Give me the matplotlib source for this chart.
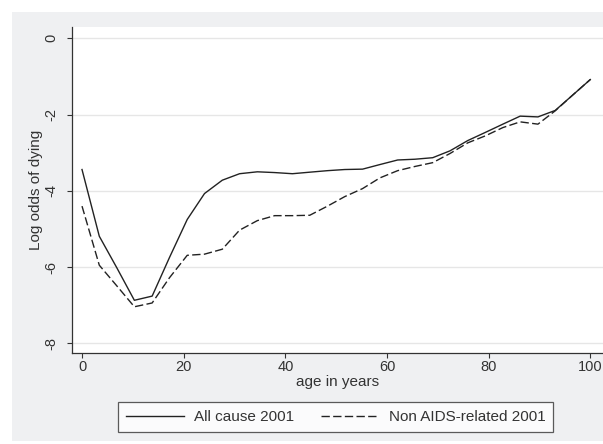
import matplotlib
matplotlib.use('Agg')
import matplotlib.pyplot as plt
from matplotlib.patches import Rectangle

plt.rcParams['font.family'] = ['Liberation Sans', 'DejaVu Sans']

# age knots (years)
ages = [0, 3.4, 6.9, 10.3, 13.8, 17.2, 20.7, 24.1, 27.6, 31.0,
        34.5, 37.9, 41.4, 44.8, 48.3, 51.7, 55.2, 58.6, 62.1, 65.5,
        69.0, 72.4, 75.9, 79.3, 82.8, 86.2, 89.7, 93.1, 96.6, 100]

allCause2001 = [-3.44, -5.19, -6.03, -6.87, -6.76, -5.75, -4.75, -4.07, -3.72, -3.55,
                -3.50, -3.52, -3.55, -3.51, -3.47, -3.44, -3.43, -3.31, -3.19, -3.17,
                -3.13, -2.95, -2.68, -2.47, -2.25, -2.04, -2.06, -1.89, -1.48, -1.08]

nonAids2001 = [-4.40, -5.95, -6.50, -7.04, -6.94, -6.28, -5.69, -5.66, -5.53, -5.03,
               -4.78, -4.65, -4.65, -4.64, -4.40, -4.15, -3.94, -3.66, -3.47, -3.36,
               -3.26, -3.02, -2.74, -2.56, -2.34, -2.19, -2.25, -1.90, -1.48, -1.08]

xTicks = [0, 20, 40, 60, 80, 100]
yTicks = [0, -2, -4, -6, -8]

fig = plt.figure(figsize=(6.03, 4.44), dpi=100)
fig.patch.set_facecolor('white')
fig.patches.append(Rectangle((0.0194, 0.0068), 0.9806, 0.966, transform=fig.transFigure,
                             facecolor='#eff0f2', edgecolor='none', zorder=-10))

ax = fig.add_axes([0.1194, 0.2043, 0.8806, 0.7342])
ax.set_facecolor('white')

lineColor = '#222222'
ax.plot(ages, allCause2001, color=lineColor, linewidth=1.0, label='All cause 2001')
ax.plot(ages, nonAids2001, color=lineColor, linewidth=1.0, dashes=(6, 2.4),
        label='Non AIDS-related 2001')

ax.set_xlim(-1.97, 102.5)
ax.set_ylim(-8.26, 0.29)
ax.set_xticks(xTicks)
ax.set_yticks(yTicks)
ax.set_yticklabels([str(v) for v in yTicks], rotation=90, va='center')
ax.grid(axis='y', color='#e6e6e6', linewidth=1.0)
ax.set_axisbelow(True)

for side in ['top', 'right']:
    ax.spines[side].set_visible(False)
for side in ['left', 'bottom']:
    ax.spines[side].set_color('#333333')
    ax.spines[side].set_linewidth(0.9)

ax.tick_params(axis='both', direction='out', length=3.6, width=0.8, color='#333333',
               labelsize=10.5, labelcolor='#333333')
ax.tick_params(axis='y', pad=6.5)
ax.tick_params(axis='x', pad=1.5)

ax.set_xlabel('age in years', fontsize=11, color='#333333', labelpad=0.5)
ax.set_ylabel('Log odds of dying', fontsize=11, color='#333333', labelpad=1)

leg = fig.legend(loc='center', bbox_to_anchor=(0.557, 0.0608), ncol=2, fontsize=11,
                 frameon=True, fancybox=False, edgecolor='#333333', handlelength=3.8,
                 handletextpad=0.65, columnspacing=1.75, borderpad=0.5)
leg.get_frame().set_linewidth(0.9)
for t in leg.get_texts():
    t.set_color('#333333')

fig.savefig('out.png', dpi=100)
